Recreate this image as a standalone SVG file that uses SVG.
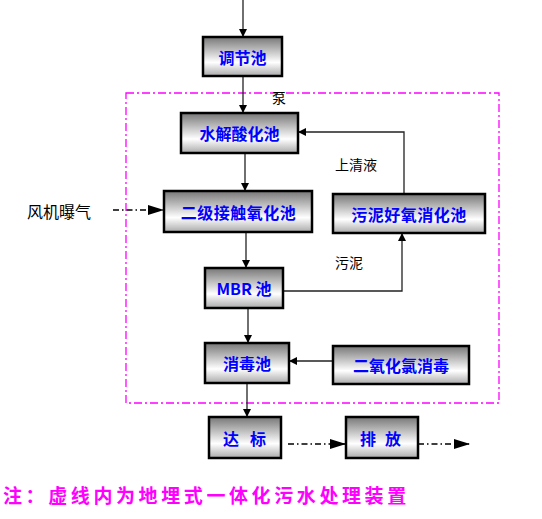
<svg xmlns="http://www.w3.org/2000/svg" width="542" height="519" viewBox="0 0 542 519">
<defs>
<linearGradient id="g" x1="0" y1="0" x2="0" y2="1">
<stop offset="0" stop-color="#777"/>
<stop offset="0.65" stop-color="#fff"/>
<stop offset="1" stop-color="#aaa"/>
</linearGradient>
<marker id="a" viewBox="0 0 10 10" refX="10" refY="5" markerWidth="10" markerHeight="8" markerUnits="userSpaceOnUse" orient="auto">
<path d="M0,0 L10,5 L0,10 Z" fill="#000"/>
</marker>
<marker id="b" viewBox="0 0 16 10" refX="16" refY="5" markerWidth="16" markerHeight="10" markerUnits="userSpaceOnUse" orient="auto">
<path d="M0,0 L16,5 L0,10 Z" fill="#000"/>
</marker>
</defs>
<style>
.box{fill:url(#g);stroke:#000;stroke-width:2.5}
.lbl{font-family:"Noto Sans CJK SC","Liberation Sans",sans-serif;font-weight:bold;font-size:16px;fill:#0000ff;text-anchor:middle;dominant-baseline:central}
.t{font-family:"Noto Sans CJK SC","Liberation Sans",sans-serif;font-size:14px;fill:#000}
.ln{stroke:#222;stroke-width:1.3;fill:none}
.dd{stroke:#000;stroke-width:1.3;fill:none;stroke-dasharray:6 3 1.5 3}
</style>
<rect x="126" y="93" width="373" height="310" fill="none" stroke="#ff00ff" stroke-width="1.3" stroke-dasharray="8 3 2 3"/>
<g id="connectors">
<line class="ln" x1="243" y1="0" x2="243" y2="37" marker-end="url(#a)"/>
<line class="ln" x1="243" y1="76" x2="243" y2="113" marker-end="url(#a)"/>
<line class="ln" x1="245" y1="153" x2="245" y2="191" marker-end="url(#a)"/>
<line class="ln" x1="246" y1="232" x2="246" y2="268" marker-end="url(#a)"/>
<line class="ln" x1="248" y1="308" x2="248" y2="343" marker-end="url(#a)"/>
<line class="ln" x1="247" y1="383" x2="247" y2="417" marker-end="url(#a)"/>
<polyline class="ln" points="404,194 404,132 298,132" marker-end="url(#a)"/>
<polyline class="ln" points="283,291 402,291 402,233" marker-end="url(#a)"/>
<line class="ln" x1="333" y1="361" x2="289" y2="361" marker-end="url(#a)"/>
<line class="dd" x1="113" y1="210" x2="164" y2="210" marker-end="url(#b)"/>
<line class="dd" x1="288" y1="444" x2="346" y2="444" marker-end="url(#b)"/>
<line class="dd" x1="418" y1="444" x2="470" y2="444" marker-end="url(#b)"/>
</g>
<g id="n1"><rect class="box" x="203" y="37" width="79" height="39"/><text class="lbl" x="242.5" y="56.5">调节池</text></g>
<g id="n2"><rect class="box" x="181" y="113" width="117" height="40"/><text class="lbl" x="239.5" y="133">水解酸化池</text></g>
<g id="n3"><rect class="box" x="164" y="191" width="148" height="41"/><text class="lbl" x="238.5" y="211.5" letter-spacing="0.5">二级接触氧化池</text></g>
<g id="n4"><rect class="box" x="205" y="268" width="78" height="40"/><text class="lbl" x="244" y="288">MBR 池</text></g>
<g id="n5"><rect class="box" x="333" y="194" width="152" height="39"/><text class="lbl" x="409" y="213.5" letter-spacing="0.5">污泥好氧消化池</text></g>
<g id="n6"><rect class="box" x="205" y="343" width="84" height="40"/><text class="lbl" x="247" y="363">消毒池</text></g>
<g id="n7"><rect class="box" x="333" y="346" width="136" height="38"/><text class="lbl" x="401" y="365">二氧化氯消毒</text></g>
<g id="n8"><rect class="box" x="209" y="417" width="72" height="41"/><text class="lbl" y="437.5"><tspan x="231">达</tspan><tspan x="258">标</tspan></text></g>
<g id="n9"><rect class="box" x="346" y="417" width="72" height="41"/><text class="lbl" y="437.5"><tspan x="368">排</tspan><tspan x="393">放</tspan></text></g>
<text class="t" x="272" y="103" font-size="13">泵</text>
<text class="t" x="335" y="170">上清液</text>
<text class="t" x="335" y="268">污泥</text>
<text class="t" x="27" y="218" style="font-size:16px">风机曝气</text>
<text x="3" y="503" font-family="Noto Sans CJK SC, sans-serif" font-weight="bold" font-size="19" fill="#ff00ff" letter-spacing="3.6">注：虚线内为地埋式一体化污水处理装置</text>
</svg>
